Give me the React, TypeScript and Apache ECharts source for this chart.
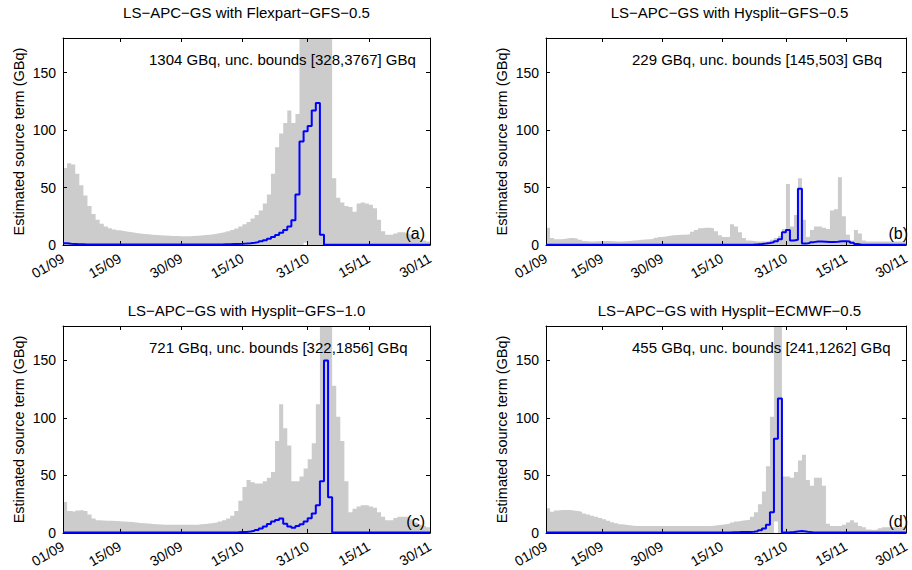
import React, { useEffect, useRef } from "react";
import * as echarts from "echarts";

// ---------- tick definitions ----------
const tickDays = [0, 14, 29, 44, 60, 75, 90];
const tickLabels = ["01/09", "15/09", "30/09", "15/10", "31/10", "15/11", "30/11"];
const yTicks = [0, 50, 100, 150];

// ---------- texts ----------
const titles = [
  "LS\u2212APC\u2212GS with Flexpart\u2212GFS\u22120.5",
  "LS\u2212APC\u2212GS with Hysplit\u2212GFS\u22120.5",
  "LS\u2212APC\u2212GS with Hysplit\u2212GFS\u22121.0",
  "LS\u2212APC\u2212GS with Hysplit\u2212ECMWF\u22120.5",
];
const totals = [
  "1304 GBq, unc. bounds [328,3767] GBq",
  "229 GBq, unc. bounds [145,503] GBq",
  "721 GBq, unc. bounds [322,1856] GBq",
  "455 GBq, unc. bounds [241,1262] GBq",
];
const tags = ["(a)", "(b)", "(c)", "(d)"];

// ---------- daily values, 01/09 .. 30/11 (GBq) ----------
// Panel (a) Flexpart-GFS-0.5
const upperA = [
  67, 71, 70, 62, 52, 43, 34, 27, 22, 18.5,
  16, 14.5, 13.5, 12.8, 12.2, 11.6, 11, 10.5, 10, 9.6,
  9.3, 9, 8.7, 8.4, 8.2, 8, 7.9, 7.8, 7.7, 7.7,
  7.7, 7.8, 8, 8.3, 8.6, 9, 9.4, 10, 10.6, 11.2,
  12, 13, 14.3, 16, 18, 20, 23, 26, 30, 36,
  44, 62, 85, 97, 106, 117, 106, 114, 300, 300,
  300, 300, 300, 300, 300, 300, 58, 41, 37, 34,
  33, 29, 36, 37, 36, 35, 32, 22, 12, 9,
  9, 10, 11, 11, 10, 9, 7, 5, 4, 3,
  3,
];
const lowerA = [
  0, 0, 0, 0, 0, 0, 0, 0, 0, 0,
  0, 0, 0, 0, 0, 0, 0, 0, 0, 0,
  0, 0, 0, 0, 0, 0, 0, 0, 0, 0,
  0, 0, 0, 0, 0, 0, 0, 0, 0, 0,
  0, 0, 0, 0, 0, 0, 0, 0, 0, 0,
  0, 0, 0, 0, 0, 0, 0, 0, 0, 2,
  0, 0, 0, 0, 0, 0, 0, 0, 0, 0,
  0, 0, 0, 0, 0, 0, 0, 0, 0, 0,
  0, 0, 0, 0, 0, 0, 0, 0, 0, 0,
  0,
];
const estA = [
  1.5, 1, 0.8, 0.6, 0.6, 0.5, 0.5, 0.5, 0.5, 0.5,
  0.5, 0.5, 0.5, 0.5, 0.5, 0.5, 0.5, 0.5, 0.5, 0.5,
  0.5, 0.5, 0.5, 0.5, 0.5, 0.5, 0.5, 0.5, 0.5, 0.5,
  0.5, 0.5, 0.5, 0.5, 0.5, 0.5, 0.5, 0.5, 0.5, 0.6,
  0.7, 0.8, 0.9, 1, 1.2, 1.5, 1.9, 2.5, 3.2, 4.2,
  5.5, 7, 8.7, 10.7, 13, 16, 21.5, 44, 90, 99,
  103.5, 117, 123.5, 9, 0.3, 0.3, 0.3, 0.3, 0.3, 0.3,
  0.3, 0.3, 0.3, 0.3, 0.3, 0.3, 0.3, 0.3, 0.3, 0.3,
  0.3, 0.3, 0.3, 0.3, 0.3, 0.3, 0.3, 0.3, 0.3, 0.3,
  0.3,
];

// Panel (b) Hysplit-GFS-0.5
const upperB = [
  15, 6, 5, 5, 5.5, 6, 6, 5.5, 4.5, 3.5,
  3, 3, 3.2, 3.5, 3.5, 3.5, 3.2, 3, 3, 3.2,
  3.5, 4, 4.2, 4.5, 4.8, 5, 5.5, 6.2, 7, 7.5,
  8, 8.5, 8.8, 9, 9, 9.3, 11.5, 13, 14.5, 15,
  15, 14.5, 12, 8.5, 7, 7, 18, 16, 11, 6,
  4, 3.5, 3, 3, 3, 3.5, 4.5, 6, 8, 14,
  53, 16, 26, 58, 22, 7, 13, 16, 16, 15,
  14, 30, 31, 59, 25, 9, 4, 13, 10, 4,
  3, 3, 3, 3, 3, 3, 3, 3, 3, 3,
  3,
];
const estB = [
  0.3, 0.3, 0.3, 0.3, 0.3, 0.3, 0.3, 0.3, 0.3, 0.3,
  0.3, 0.3, 0.3, 0.3, 0.3, 0.3, 0.3, 0.3, 0.3, 0.3,
  0.3, 0.3, 0.3, 0.3, 0.3, 0.3, 0.3, 0.3, 0.3, 0.3,
  0.3, 0.3, 0.3, 0.3, 0.3, 0.3, 0.3, 0.3, 0.3, 0.3,
  0.3, 0.3, 0.3, 0.3, 0.3, 0.3, 0.3, 0.3, 0.3, 0.3,
  0.3, 0.4, 0.6, 0.9, 1.3, 1.8, 2.4, 3.2, 5, 11,
  13, 4, 4.5, 49, 1.2, 1.8, 2.5, 3, 3, 2.8,
  2.6, 2.6, 2.8, 3.2, 3.3, 3, 2, 0.8, 0.3, 0.3,
  0.3, 0.3, 0.3, 0.3, 0.3, 0.3, 0.3, 0.3, 0.3, 0.3,
  0.3,
];

// Panel (c) Hysplit-GFS-1.0
const upperC = [
  27, 19, 18.5, 19.5, 20, 19, 16, 12.5, 11, 10.8,
  10.6, 10.5, 10.3, 10.1, 10, 9.7, 9.4, 9, 8.7, 8.4,
  8.1, 7.8, 7.5, 7.3, 7.1, 7, 7, 7, 7, 7,
  7, 7, 7.2, 7.5, 7.8, 8.2, 8.7, 9.3, 10, 11,
  12.5, 15, 19, 28, 40, 46, 44, 43, 43, 45,
  48, 53, 80, 112, 91, 76, 45, 45, 49, 56,
  64, 78, 112, 300, 300, 300, 128, 101, 80, 45,
  18, 21, 23, 24, 24, 23, 22, 18, 14, 11,
  11, 13, 14, 14, 14, 12, 9, 7, 6, 5,
  5,
];
const estC = [
  0.3, 0.3, 0.3, 0.3, 0.3, 0.3, 0.3, 0.3, 0.3, 0.3,
  0.3, 0.3, 0.3, 0.3, 0.3, 0.3, 0.3, 0.3, 0.3, 0.3,
  0.3, 0.3, 0.3, 0.3, 0.3, 0.3, 0.3, 0.3, 0.3, 0.3,
  0.3, 0.3, 0.3, 0.3, 0.3, 0.3, 0.3, 0.3, 0.3, 0.3,
  0.3, 0.4, 0.5, 0.7, 0.9, 1.3, 1.8, 2.6, 3.8, 5.5,
  7.8, 9.9, 11.3, 12.5, 8, 5.5, 4.6, 6, 7.5, 9.9,
  12.8, 17, 24, 45, 150, 31, 0.3, 0.3, 0.3, 0.3,
  0.3, 0.3, 0.3, 0.3, 0.3, 0.3, 0.3, 0.3, 0.3, 0.3,
  0.3, 0.3, 0.3, 0.3, 0.3, 0.3, 0.3, 0.3, 0.3, 0.3,
  0.3,
];

// Panel (d) Hysplit-ECMWF-0.5
const upperD = [
  21.4, 18.5, 19.5, 20, 20, 20, 19.5, 19, 18.5, 17,
  16, 15, 14, 13, 11.8, 10.5, 9.3, 8.4, 7.6, 7,
  6.6, 6.3, 6.1, 6, 6, 6, 6, 6, 6, 6,
  6, 6, 6, 6, 6, 6, 6, 6, 6, 6,
  6, 6.3, 6.7, 7, 7.5, 8, 9, 10, 10.5, 11,
  11.5, 14, 18, 25, 36, 58, 101, 300, 300, 49,
  49, 48, 53, 63, 68, 46, 41, 48, 48, 41,
  8, 6, 6, 6, 7, 9, 11, 9, 6, 5,
  3, 2.5, 3, 4, 5, 5, 5, 5, 5, 5,
  5,
];
const lowerD = [
  0, 0, 0, 0, 0, 0, 0, 0, 0, 0,
  0, 0, 0, 0, 0, 0, 0, 0, 0, 0,
  0, 0, 0, 0, 0, 0, 0, 0, 0, 0,
  0, 0, 0, 0, 0, 0, 0, 0, 0, 0,
  0, 0, 0, 0, 0, 0, 0, 0, 0, 0,
  0, 0, 0, 0, 0, 0, 0, 10, 0, 0,
  0, 0, 0, 0, 0, 0, 0, 0, 0, 0,
  0, 0, 0, 0, 0, 0, 0, 0, 0, 0,
  0, 0, 0, 0, 0, 0, 0, 0, 0, 0,
  0,
];
const estD = [
  0.4, 0.4, 0.4, 0.4, 0.4, 0.4, 0.4, 0.4, 0.4, 0.4,
  0.4, 0.4, 0.4, 0.4, 0.4, 0.4, 0.4, 0.4, 0.4, 0.4,
  0.4, 0.4, 0.4, 0.4, 0.4, 0.4, 0.4, 0.4, 0.4, 0.4,
  0.4, 0.4, 0.4, 0.4, 0.4, 0.4, 0.4, 0.4, 0.4, 0.4,
  0.4, 0.4, 0.4, 0.4, 0.4, 0.4, 0.5, 0.6, 0.7, 0.8,
  0.9, 1.1, 1.5, 2.3, 3.8, 7, 18, 82, 117, 0.4,
  0.5, 0.8, 1.2, 1.6, 1.3, 0.7, 0.4, 0.4, 0.4, 0.4,
  0.4, 0.4, 0.4, 0.4, 0.4, 0.4, 0.4, 0.4, 0.4, 0.4,
  0.4, 0.4, 0.4, 0.4, 0.4, 0.4, 0.4, 0.4, 0.4, 0.4,
  0.4,
];

const uppers = [upperA, upperB, upperC, upperD];
const lowers = [lowerA, null, null, lowerD];
const estimates = [estA, estB, estC, estD];

// ---------- layout ----------
const FONT = "'Liberation Sans', Arial, Helvetica, sans-serif";
const PW = 367;
const PH = 207;
const panelPos = [
  { left: 63, top: 38, titleY: 12 },
  { left: 546, top: 38, titleY: 12 },
  { left: 63, top: 326, titleY: 310 },
  { left: 546, top: 326, titleY: 310 },
];

const fmtDay = (v: number) => {
  const k = tickDays.indexOf(Math.round(v));
  return k >= 0 ? tickLabels[k] : "";
};

function buildOption() {
  const grid: any[] = [];
  const xAxis: any[] = [];
  const yAxis: any[] = [];
  const series: any[] = [];
  const graphic: any[] = [];
  const axisLine = { show: true, onZero: false, lineStyle: { color: "#000", width: 1 } };

  panelPos.forEach((p, i) => {
    grid.push({ left: p.left, top: p.top, width: PW, height: PH });
    const xTick = {
      show: true,
      inside: true,
      length: 4,
      customValues: tickDays,
      lineStyle: { color: "#000", width: 1 },
    };
    xAxis.push({
      type: "value",
      gridIndex: i,
      position: "bottom",
      min: 0,
      max: 90,
      z: 5,
      axisLine,
      axisTick: xTick,
      axisLabel: {
        customValues: tickDays,
        formatter: fmtDay,
        rotate: 30,
        margin: 12,
        fontSize: 14,
        color: "#000",
        fontFamily: FONT,
      },
      splitLine: { show: false },
    });
    xAxis.push({
      type: "value",
      gridIndex: i,
      position: "top",
      min: 0,
      max: 90,
      z: 5,
      axisLine,
      axisTick: xTick,
      axisLabel: { show: false },
      splitLine: { show: false },
    });
    const yTick = {
      show: true,
      inside: true,
      length: 4,
      customValues: yTicks,
      lineStyle: { color: "#000", width: 1 },
    };
    yAxis.push({
      type: "value",
      gridIndex: i,
      position: "left",
      min: 0,
      max: 180,
      z: 5,
      axisLine,
      axisTick: yTick,
      axisLabel: {
        customValues: yTicks,
        margin: 7,
        fontSize: 14,
        color: "#000",
        fontFamily: FONT,
      },
      splitLine: { show: false },
      name: "Estimated source term (GBq)",
      nameLocation: "middle",
      nameGap: 37,
      nameTextStyle: { fontSize: 14.5, color: "#000", fontFamily: FONT },
    });
    yAxis.push({
      type: "value",
      gridIndex: i,
      position: "right",
      min: 0,
      max: 180,
      z: 5,
      axisLine,
      axisTick: yTick,
      axisLabel: { show: false },
      splitLine: { show: false },
    });

    const xi = i * 2;
    series.push({
      type: "line",
      xAxisIndex: xi,
      yAxisIndex: xi,
      data: uppers[i].map((v, k) => [k, v]),
      step: "end",
      symbol: "none",
      silent: true,
      clip: true,
      lineStyle: { width: 0, opacity: 0 },
      areaStyle: { color: "#cccccc", opacity: 1 },
      z: 2,
    });
    const low = lowers[i];
    if (low) {
      series.push({
        type: "line",
        xAxisIndex: xi,
        yAxisIndex: xi,
        data: low.map((v, k) => [k, v]),
        step: "end",
        symbol: "none",
        silent: true,
        clip: true,
        lineStyle: { width: 0, opacity: 0 },
        areaStyle: { color: "#ffffff", opacity: 1 },
        z: 3,
      });
    }
    series.push({
      type: "line",
      xAxisIndex: xi,
      yAxisIndex: xi,
      data: estimates[i].map((v, k) => [k, v]),
      step: "end",
      symbol: "none",
      silent: true,
      clip: true,
      lineStyle: { color: "#0000ff", width: 2 },
      z: 6,
    });

    graphic.push({
      type: "text",
      x: p.left + PW / 2,
      y: p.titleY,
      style: {
        text: titles[i],
        fill: "#000",
        fontSize: 15,
        fontFamily: FONT,
        align: "center",
        verticalAlign: "middle",
      },
    });
    graphic.push({
      type: "text",
      x: p.left + 86,
      y: p.top + 21,
      z: 10,
      style: {
        text: totals[i],
        fill: "#000",
        fontSize: 15,
        fontFamily: FONT,
        align: "left",
        verticalAlign: "middle",
      },
    });
    graphic.push({
      type: "text",
      x: p.left + PW - 5,
      y: p.top + PH - 12,
      z: 10,
      style: {
        text: tags[i],
        fill: "#000",
        fontSize: 16,
        fontFamily: FONT,
        align: "right",
        verticalAlign: "middle",
      },
    });
  });

  return {
    animation: false,
    backgroundColor: "#ffffff",
    grid,
    xAxis,
    yAxis,
    series,
    graphic,
  };
}

export default function App() {
  const ref = useRef<HTMLDivElement>(null);
  useEffect(() => {
    if (!ref.current) return;
    const chart = echarts.init(ref.current, null, { renderer: "svg" });
    chart.setOption(buildOption() as any);
    return () => chart.dispose();
  }, []);
  return (
    <div
      ref={ref}
      style={{ position: "absolute", left: 0, top: 0, width: 912, height: 570, background: "#fff" }}
    />
  );
}
